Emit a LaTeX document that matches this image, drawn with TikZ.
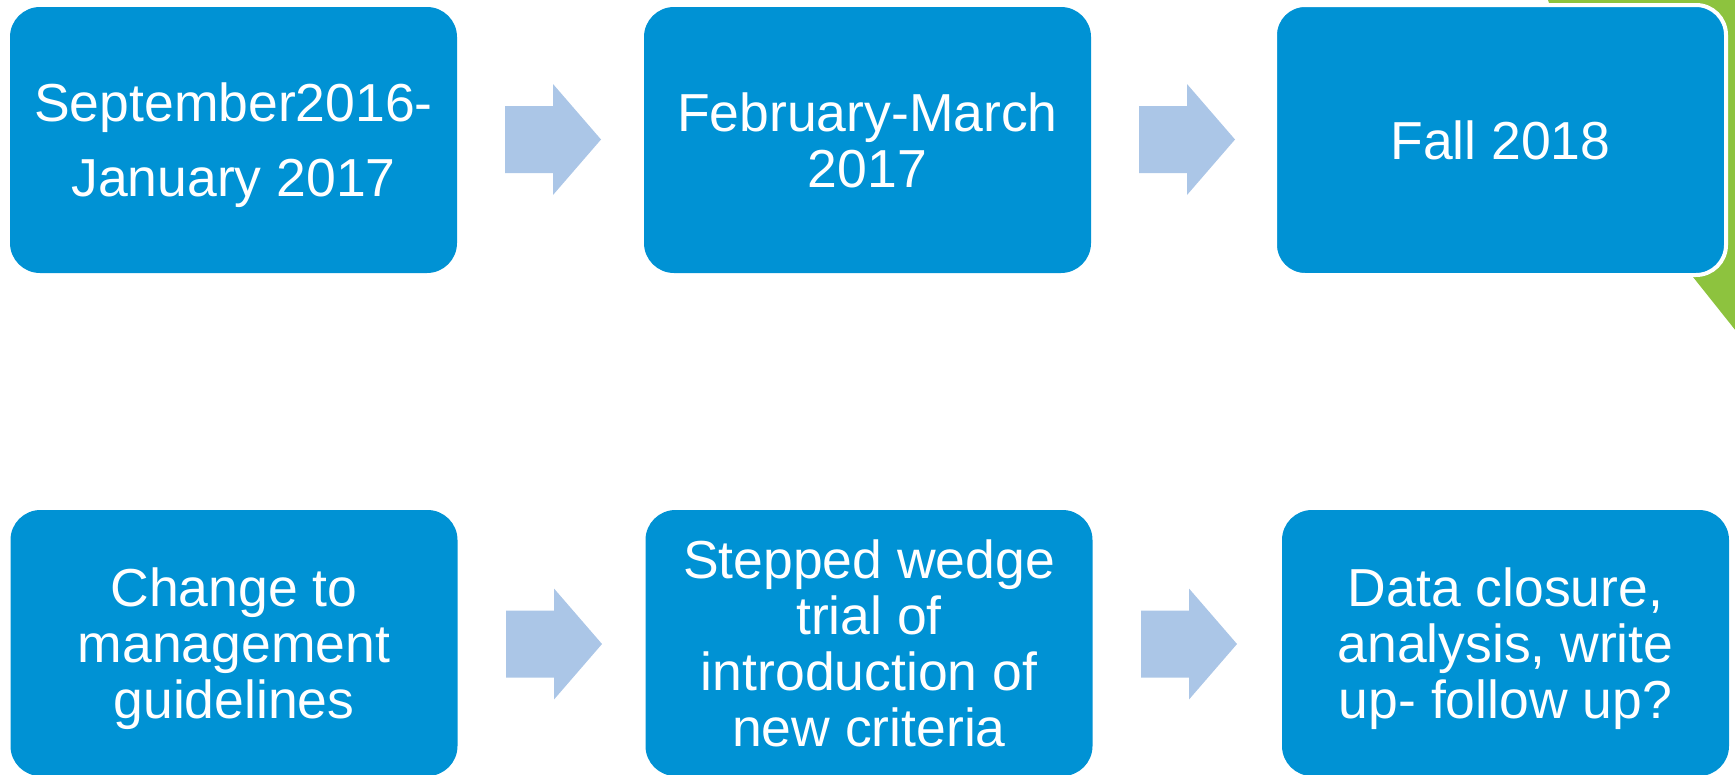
\documentclass[tikz,border=0pt]{standalone}
\usepackage{fontspec}
\setmainfont{Liberation Sans}
\definecolor{boxblue}{RGB}{0,146,212}
\definecolor{arrowblue}{RGB}{171,198,231}
\definecolor{leafgreen}{RGB}{141,195,62}
\begin{document}
\begin{tikzpicture}[x=1pt,y=-1pt,
  stepbox/.style={fill=boxblue, rounded corners=30pt, minimum width=447pt,
    minimum height=266pt, inner sep=0pt, text=white, align=center,
    font=\fontsize{53.5}{56}\selectfont},
  blockarrow/.pic={\fill[arrowblue] (-48,-33.5) -- (0,-33.5) -- (0,-55.5) -- (48,0)
    -- (0,55.5) -- (0,33.5) -- (-48,33.5) -- cycle;}]
\useasboundingbox (0,0) rectangle (1735,774);
% green shape behind the third box
\fill[leafgreen] (1548,0) -- (1740,0) -- (1740,336) -- (1693,277) -- (1600,150) -- cycle;
% top row
\node[stepbox, text depth=0pt] (t1) at (233.5,140) {September2016-\\[19pt]January 2017};
\node[stepbox] (t2) at (867.5,140) {February-March\\2017};
\node[stepbox, draw=white, line width=4pt, minimum width=451pt, minimum height=270pt]
  (t3) at (1500.5,140) {Fall 2018};
\pic (a1) at (553,139.5) {blockarrow};
\pic (a2) at (1187,139.5) {blockarrow};
% bottom row
\node[stepbox, text depth=0pt] (b1) at (234,643) {Change to\\management\\guidelines};
\node[stepbox] (b2) at (869,643) {Stepped wedge\\trial of\\introduction of\\new criteria};
\node[stepbox, text depth=0pt] (b3) at (1505.5,643) {Data closure,\\analysis, write\\up- follow up?};
\pic (a3) at (554,644) {blockarrow};
\pic (a4) at (1189,644) {blockarrow};
\end{tikzpicture}
\end{document}
